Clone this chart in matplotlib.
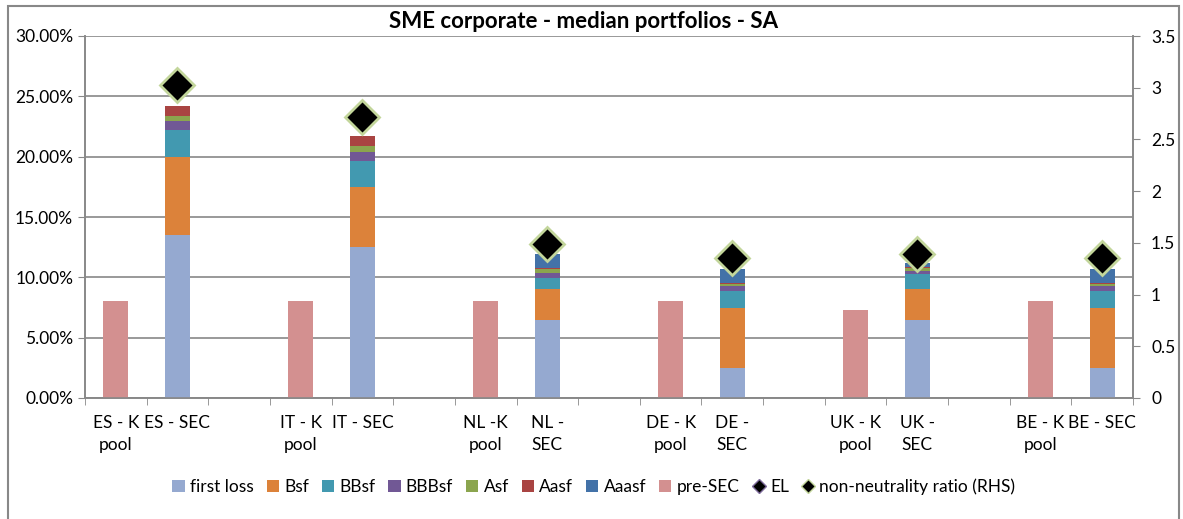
import numpy as np
import matplotlib.pyplot as plt
from matplotlib.patches import Rectangle
from matplotlib.lines import Line2D

plt.rcParams['font.family'] = ['Lato', 'DejaVu Sans']

# Categorias (17 posiciones, con huecos vacios entre paises)
categorias = ["ES - K\npool", "ES - SEC", "", "IT - K\npool", "IT - SEC", "",
              "NL -K\npool", "NL -\nSEC", "", "DE - K\npool", "DE -\nSEC", "",
              "UK - K\npool", "UK -\nSEC", "", "BE - K\npool", "BE - SEC"]

# Tramos (en %)
first_loss = [0, 13.5, 0, 0, 12.5, 0, 0, 6.5, 0, 0, 2.5, 0, 0, 6.5, 0, 0, 2.5]
bsf        = [0, 6.5, 0, 0, 5.0, 0, 0, 2.5, 0, 0, 5.0, 0, 0, 2.5, 0, 0, 5.0]
bbsf       = [0, 2.2, 0, 0, 2.15, 0, 0, 0.95, 0, 0, 1.4, 0, 0, 1.27, 0, 0, 1.4]
bbbsf      = [0, 0.75, 0, 0, 0.75, 0, 0, 0.4, 0, 0, 0.35, 0, 0, 0.28, 0, 0, 0.35]
asf        = [0, 0.45, 0, 0, 0.45, 0, 0, 0.3, 0, 0, 0.22, 0, 0, 0.19, 0, 0, 0.2]
aasf       = [0, 0.8, 0, 0, 0.85, 0, 0, 0.15, 0, 0, 0.1, 0, 0, 0.08, 0, 0, 0.1]
aaasf      = [0, 0, 0, 0, 0, 0, 0, 1.1, 0, 0, 1.13, 0, 0, 0.33, 0, 0, 1.16]
pre_sec    = [8.0, 0, 0, 8.0, 0, 0, 8.0, 0, 0, 8.0, 0, 0, 7.3, 0, 0, 8.0, 0]

# Series de la derecha
el    = [np.nan] * 17
ratio = [np.nan, 3.03, np.nan, np.nan, 2.72, np.nan, np.nan, 1.49, np.nan,
         np.nan, 1.35, np.nan, np.nan, 1.39, np.nan, np.nan, 1.35]

tramos = [("first loss", first_loss, "#95A9D0"),
          ("Bsf", bsf, "#DC823A"),
          ("BBsf", bbsf, "#4299B0"),
          ("BBBsf", bbbsf, "#715895"),
          ("Asf", asf, "#8BA54E"),
          ("Aasf", aasf, "#A94442"),
          ("Aaasf", aaasf, "#4372A8")]

fig = plt.figure(figsize=(11.83, 5.19), dpi=100)
ax = fig.add_axes([85/1183, 1 - 398/519, (1133-85)/1183, (398-36)/519])
ax2 = ax.twinx()

x = np.arange(len(categorias))
base = np.zeros(len(categorias))
for nombre, vals, color in tramos:
    ax.bar(x, vals, 0.4, bottom=base, color=color, label=nombre, zorder=3)
    base = base + np.array(vals)
ax.bar(x, pre_sec, 0.4, color="#D39090", label="pre-SEC", zorder=3)

ax2.plot(x, el, "D", color="black", markeredgecolor="#7F6C9C", markersize=15, label="EL")
ax2.plot(x, ratio, "D", color="black", markeredgecolor="#C3D69B", markeredgewidth=2,
         markersize=17, label="non-neutrality ratio (RHS)")

gris = "#888888"
ax.set_xlim(-0.5, len(categorias) - 0.5)
ax.set_ylim(0, 30)
ax.set_yticks(np.arange(0, 31, 5))
ax.set_yticklabels([f"{v:.2f}%" for v in np.arange(0, 31, 5)])
ax.yaxis.grid(True, color=gris, linewidth=1.2, zorder=0)
ax.set_axisbelow(True)
ax.set_xticks(x)
ax.set_xticklabels(categorias, linespacing=1.5)
ax.set_xticks(np.arange(-0.5, len(categorias)), minor=True)
ax.tick_params(axis="x", which="major", length=0, pad=12, labelsize=12.5)
ax.tick_params(axis="x", which="minor", length=5, color=gris)
ax.tick_params(axis="y", length=5, color=gris, labelsize=12.5, direction="out")

ax2.set_ylim(0, 3.5)
ax2.set_yticks(np.arange(0, 3.6, 0.5))
ax2.set_yticklabels(["0", "0.5", "1", "1.5", "2", "2.5", "3", "3.5"])
ax2.tick_params(axis="y", length=5, color=gris, labelsize=12.5, pad=8)

for a in (ax, ax2):
    a.spines["top"].set_visible(False)
    for s in ("left", "right", "bottom"):
        a.spines[s].set_color(gris)
        a.spines[s].set_linewidth(1.2)

fig.text(0.493, 1 - 22/519, "SME corporate - median portfolios - SA", ha="center",
         va="center", fontsize=16, fontweight="bold")

h1, l1 = ax.get_legend_handles_labels()
h2 = [Line2D([], [], marker="D", linestyle="none", color="black", markeredgecolor="#7F6C9C", markersize=7),
      Line2D([], [], marker="D", linestyle="none", color="black", markeredgecolor="#C3D69B", markersize=7)]
l2 = ["EL", "non-neutrality ratio (RHS)"]
fig.legend(h1 + h2, l1 + l2, loc="center", bbox_to_anchor=(0.502, 1 - 487/519), ncol=10,
           frameon=False, fontsize=12.5, handlelength=0.7, handleheight=0.7,
           handletextpad=0.3, columnspacing=0.75)

# marco exterior del grafico
fig.patches.append(Rectangle((8/1183, -0.05), (1179-8)/1183, 1.05 - 6/519,
                             transform=fig.transFigure, fill=False,
                             edgecolor=gris, linewidth=1.5))

plt.savefig("out.png", dpi=100)
